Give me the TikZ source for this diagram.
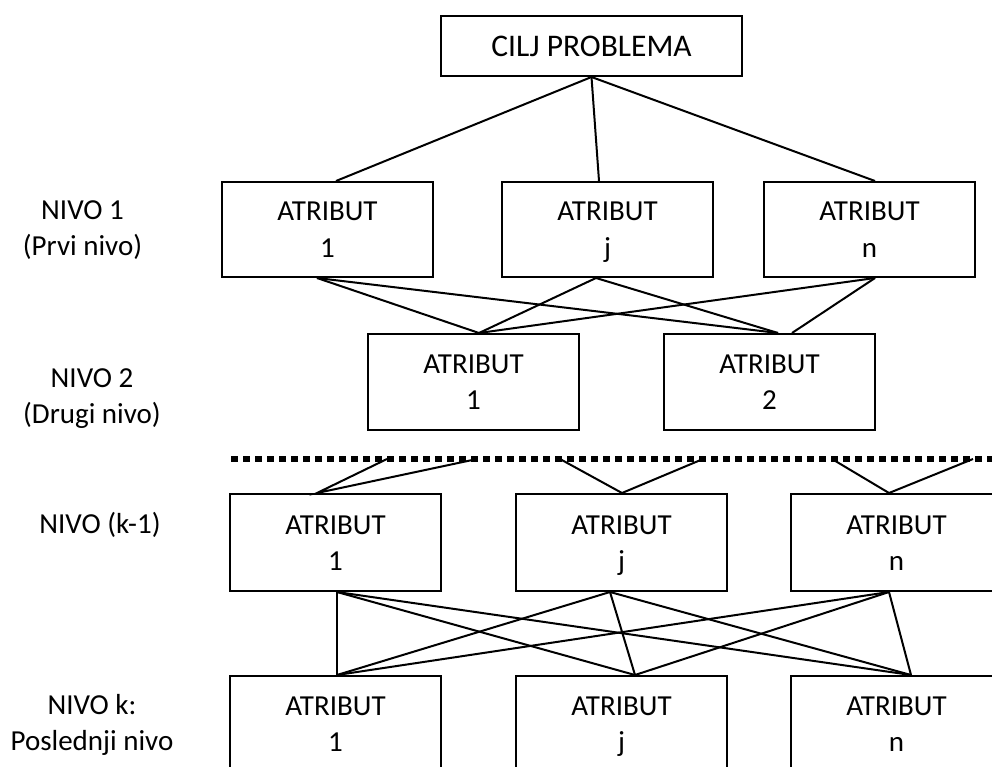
\documentclass[tikz,border=0pt]{standalone}
\usepackage{fontspec}
\setmainfont{Carlito}
\begin{document}
\begin{tikzpicture}[x=1pt, y=-1pt,
  box/.style={draw, line width=2pt, inner sep=0pt, align=center,
    font=\fontsize{29}{36}\selectfont, text height=55pt, text depth=0pt,
    minimum width=211pt, minimum height=96pt},
  goalbox/.style={draw, line width=2pt, inner sep=0pt, align=center,
    font=\fontsize{31.5}{36}\selectfont, minimum width=301pt, minimum height=60pt},
  levellabel/.style={anchor=base, align=center, inner sep=0pt,
    font=\fontsize{29}{36}\selectfont},
  link/.style={line width=2pt},
  cutline/.style={line width=5.5pt, dash pattern=on 7pt off 5pt}]

\useasboundingbox (0,0) rectangle (992,767);

% goal
\node[goalbox] (goal) at (591.5,46) {CILJ PROBLEMA};

% level 1
\node[box, minimum height=95pt] (l1a) at (327.5,229.5) {ATRIBUT\\1};
\node[box, minimum height=95pt] (l1b) at (607.5,229.5) {ATRIBUT\\j};
\node[box, minimum height=95pt] (l1c) at (869.5,229.5) {ATRIBUT\\n};

% level 2
\node[box] (l2a) at (473.5,382) {ATRIBUT\\1};
\node[box] (l2b) at (769.5,382) {ATRIBUT\\2};

% level k-1
\node[box, minimum height=97pt] (pa) at (335.5,542.5) {ATRIBUT\\1};
\node[box, minimum height=97pt] (pb) at (621.5,542.5) {ATRIBUT\\j};
\node[box, minimum height=97pt] (pc) at (896.5,542.5) {ATRIBUT\\n};

% level k
\node[box] (ka) at (335.5,724) {ATRIBUT\\1};
\node[box] (kb) at (621.5,724) {ATRIBUT\\j};
\node[box] (kc) at (896.5,724) {ATRIBUT\\n};

% level labels (placed by the baseline of their last line)
\node[levellabel] (lab1) at (82.5,255) {NIVO 1\\(Prvi nivo)};
\node[levellabel] (lab2) at (92,423) {NIVO 2\\(Drugi nivo)};
\node[levellabel] (lab3) at (100,533) {NIVO (k-1)};
\node[levellabel] (lab4) at (92,750) {NIVO k:\\Poslednji nivo};

% goal -> level 1
\draw[link] (goal.south) -- ([xshift=8.5pt]l1a.north);
\draw[link] (goal.south) -- ([xshift=-8.5pt]l1b.north);
\draw[link] (goal.south) -- ([xshift=5.5pt]l1c.north);

% level 1 -> level 2
\coordinate (l1a-s) at ([xshift=-10.5pt]l1a.south);
\coordinate (l1b-s) at ([xshift=-11.5pt]l1b.south);
\coordinate (l1c-s) at ([xshift=5.5pt]l1c.south);
\coordinate (l2a-n) at ([xshift=5.5pt]l2a.north);
\coordinate (l2b-n) at ([xshift=8.5pt]l2b.north);
\coordinate (l2b-n2) at ([xshift=22.5pt]l2b.north);
\draw[link] (l1a-s) -- (l2a-n);
\draw[link] (l1a-s) -- (l2b-n);
\draw[link] (l1b-s) -- (l2a-n);
\draw[link] (l1b-s) -- (l2b-n);
\draw[link] (l1c-s) -- (l2a-n);
\draw[link] (l1c-s) -- (l2b-n2);

% omitted intermediate levels
\coordinate (cutL) at (231,459);
\coordinate (cutR) at (1000,459);
\draw[cutline] (cutL) -- (cutR);
\coordinate (c1) at (387,459);
\coordinate (c2) at (477,459);
\coordinate (c3) at (560,459);
\coordinate (c4) at (703,459);
\coordinate (c5) at (832,459);
\coordinate (c6) at (973,459);
\coordinate (pa-n) at ([xshift=-18.5pt]pa.north);
\coordinate (pb-n) at ([xshift=0.5pt]pb.north);
\coordinate (pc-n) at ([xshift=-7.5pt]pc.north);
\draw[link] (c1) -- (pa-n) -- (c2);
\draw[link] (c3) -- (pb-n) -- (c4);
\draw[link] (c5) -- (pc-n) -- (c6);

% level k-1 -> level k
\coordinate (pa-s) at ([xshift=1.5pt]pa.south);
\coordinate (pb-s) at ([xshift=-11.5pt]pb.south);
\coordinate (pc-s) at ([xshift=-7.5pt]pc.south);
\coordinate (ka-n) at ([xshift=1.5pt]ka.north);
\coordinate (kb-n) at ([xshift=13.5pt]kb.north);
\coordinate (kc-n) at ([xshift=14.5pt]kc.north);
\foreach \s in {pa-s,pb-s,pc-s}
  \foreach \t in {ka-n,kb-n,kc-n}
    \draw[link] (\s) -- (\t);
\end{tikzpicture}
\end{document}
